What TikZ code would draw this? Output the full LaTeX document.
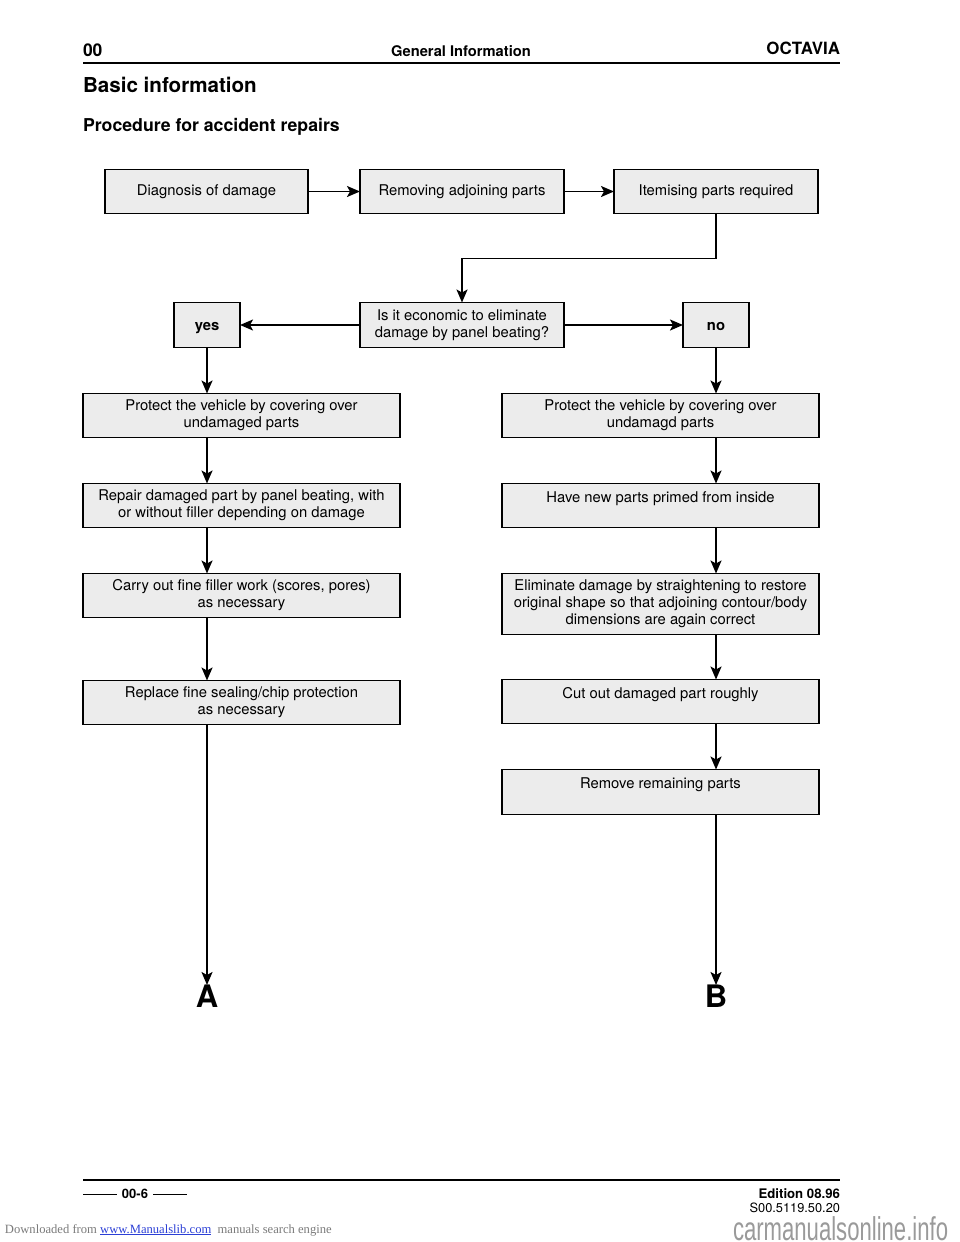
\documentclass[tikz,border=0pt]{standalone}
\usepackage{fontspec}
\setmainfont{TeX Gyre Heros}
\newfontfamily\serifwm{Liberation Serif}
\newfontfamily\sanswm{Liberation Sans}
\usetikzlibrary{arrows.meta}
\definecolor{boxfill}{HTML}{ECECEC}
\definecolor{wmgray}{HTML}{9A9A9A}
\definecolor{linkblue}{HTML}{2B3FD6}
\begin{document}
\begin{tikzpicture}[x=1pt,y=-1pt,
  every node/.style={inner sep=0pt, outer sep=0pt},
  flowbox/.style={draw=black, line width=1.8pt, fill=boxfill, align=center,
    font=\fontsize{14.8}{17}\selectfont},
  arr/.style={line width=1.8pt, -{Stealth[length=13pt,width=11pt,inset=3pt]}},
  plain/.style={line width=1.8pt}]
\useasboundingbox (0,0) rectangle (960,1242);
\fill[white] (0,0) rectangle (960,1242);
% header
\node[anchor=base west, font=\bfseries\fontsize{17.5}{20}\selectfont] (h00) at (83,56) {00};
\node[anchor=base, font=\bfseries\fontsize{14.7}{17}\selectfont] (hgi) at (461,56) {General Information};
\node[anchor=base east, font=\bfseries\fontsize{16.9}{20}\selectfont] (hoct) at (840,54) {OCTAVIA};
\draw[line width=1.8pt] (83,63) -- (840,63);
\node[anchor=base west, font=\bfseries\fontsize{20.6}{24}\selectfont] (title) at (83,92) {Basic information};
\node[anchor=base west, font=\bfseries\fontsize{17.7}{21}\selectfont] (sub) at (83,131) {Procedure for accident repairs};
% top row
\node[flowbox, minimum width=203, minimum height=44] (diag) at (206.5,191.5) {Diagnosis of damage};
\node[flowbox, minimum width=204, minimum height=44] (remv) at (462,191.5) {Removing adjoining parts};
\node[flowbox, minimum width=204, minimum height=44] (item) at (716,191.5) {Itemising parts required};
\node[flowbox, minimum width=204, minimum height=45] (quest) at (462,325) {Is it economic to eliminate\\damage by panel beating?};
\node[flowbox, minimum width=66, minimum height=45, font=\bfseries\fontsize{14.8}{17}\selectfont, text height=10.5pt, text depth=0pt] (yes) at (207,325) {yes};
\node[flowbox, minimum width=66, minimum height=45, font=\bfseries\fontsize{14.8}{17}\selectfont, text height=10.5pt, text depth=0pt] (no) at (716,325) {no};
% left column
\node[flowbox, minimum width=317, minimum height=44] (L1) at (241.5,415.5) {Protect the vehicle by covering over\\undamaged parts};
\node[flowbox, minimum width=317, minimum height=44] (L2) at (241.5,505.5) {Repair damaged part by panel beating, with\\or without filler depending on damage};
\node[flowbox, minimum width=317, minimum height=44] (L3) at (241.5,595.5) {Carry out fine filler work (scores, pores)\\as necessary};
\node[flowbox, minimum width=317, minimum height=44] (L4) at (241.5,702.5) {Replace fine sealing/chip protection\\as necessary};
% right column
\node[flowbox, minimum width=317, minimum height=44] (R1) at (660.5,415.5) {Protect the vehicle by covering over\\undamagd parts};
\node[flowbox, minimum width=317, minimum height=44] (R2) at (660.5,505.5) {Have new parts primed from inside\\\mbox{}};
\node[flowbox, minimum width=317, minimum height=61] (R3) at (660.5,604) {Eliminate damage by straightening to restore\\original shape so that adjoining contour/body\\dimensions are again correct};
\node[flowbox, minimum width=317, minimum height=44] (R4) at (660.5,701.5) {Cut out damaged part roughly\\\mbox{}};
\node[flowbox, minimum width=317, minimum height=45] (R5) at (660.5,792) {Remove remaining parts\\\mbox{}};
% end labels
\node[anchor=north, font=\bfseries\fontsize{31}{34}\selectfont] (A) at (207,985) {A};
\node[anchor=north, font=\bfseries\fontsize{31}{34}\selectfont] (B) at (716,985) {B};
% connectors
\draw[arr] (diag.east) -- (remv.west);
\draw[arr] (remv.east) -- (item.west);
\draw[arr] (item.south) -- ++(0,45) -| (quest.north);
\draw[arr] (quest.west) -- (yes.east);
\draw[arr] (quest.east) -- (no.west);
\draw[arr] (yes.south) -- (yes.south |- L1.north);
\draw[arr] (yes.south |- L1.south) -- (yes.south |- L2.north);
\draw[arr] (yes.south |- L2.south) -- (yes.south |- L3.north);
\draw[arr] (yes.south |- L3.south) -- (yes.south |- L4.north);
\draw[arr] (yes.south |- L4.south) -- (A.north);
\draw[arr] (no.south) -- (no.south |- R1.north);
\draw[arr] (no.south |- R1.south) -- (no.south |- R2.north);
\draw[arr] (no.south |- R2.south) -- (no.south |- R3.north);
\draw[arr] (no.south |- R3.south) -- (no.south |- R4.north);
\draw[arr] (no.south |- R4.south) -- (no.south |- R5.north);
\draw[arr] (no.south |- R5.south) -- (B.north);
% footer
\draw[line width=1.8pt] (83,1180) -- (840,1180);
\node[anchor=base, font=\bfseries\fontsize{13}{15}\selectfont] (pg) at (135,1198) {00-6};
\draw[line width=0.9pt] (83,1194) -- (117,1194);
\draw[line width=0.9pt] (153,1194) -- (187,1194);
\node[anchor=base east, font=\bfseries\fontsize{13.2}{15}\selectfont] (ed) at (840,1198) {Edition 08.96};
\node[anchor=base east, font=\fontsize{12.8}{15}\selectfont] (code) at (840,1212) {S00.5119.50.20};
\node[anchor=base west, text=wmgray!80!black, font=\serifwm\fontsize{12.6}{14}\selectfont] (dl) at (5,1233) {Downloaded from \textcolor{linkblue}{\underline{www.Manualslib.com}}\ \ manuals search engine};
\node[anchor=base west, text=wmgray, font=\sanswm\fontsize{33}{38}\selectfont, xscale=0.67] (wm) at (733,1240) {carmanualsonline.info};
\end{tikzpicture}
\end{document}
